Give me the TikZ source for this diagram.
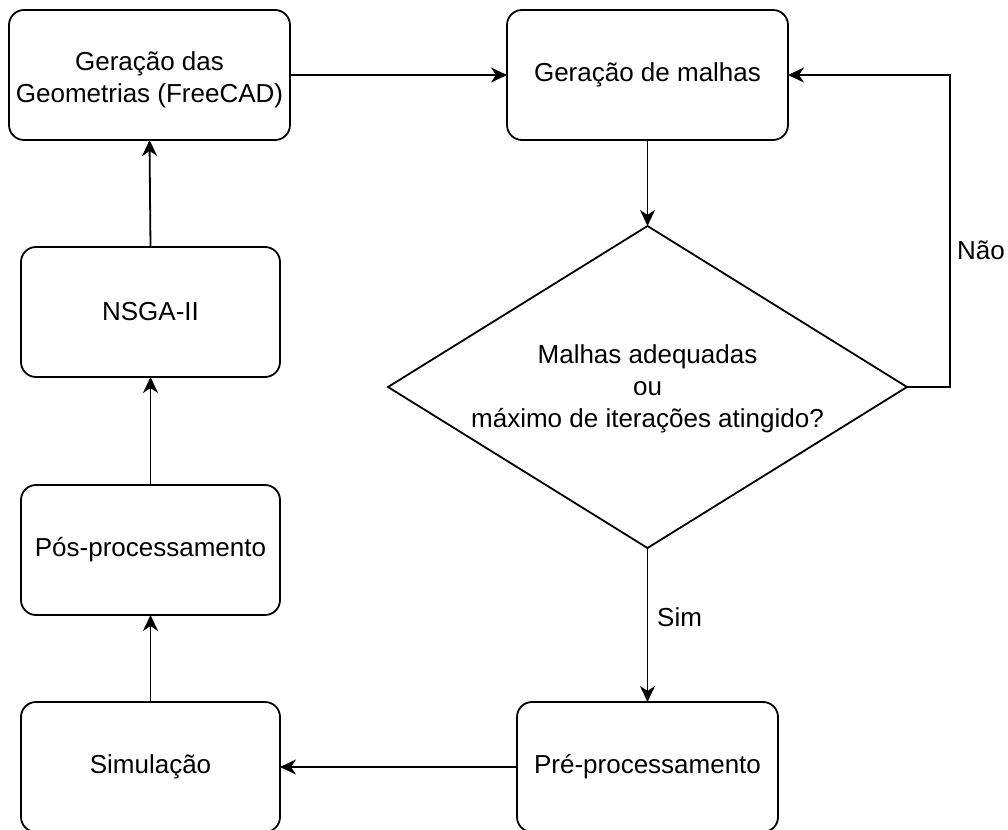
\documentclass[tikz,border=0pt]{standalone}
\usepackage{fontspec}
\setmainfont{Liberation Sans}
\usetikzlibrary{arrows.meta,shapes.geometric}

\tikzset{
  stepbox/.style={draw, line width=1.8pt, rounded corners=15pt, inner sep=0pt,
    outer sep=0pt, minimum height=130pt, align=center,
    font=\fontsize{26}{32}\selectfont},
  decision/.style={draw, diamond, line width=1.8pt, inner sep=0pt, outer sep=0pt,
    minimum width=519pt, minimum height=322pt},
  txt/.style={align=center, inner sep=0pt, font=\fontsize{26}{32}\selectfont},
  flow/.style={line width=1.8pt, -{Stealth[length=16pt, width=15pt, inset=5pt]}},
}

\begin{document}
\begin{tikzpicture}[x=1pt, y=-1pt]
  \useasboundingbox (0,0) rectangle (1008,829);

  % process steps
  \node[stepbox, minimum width=281pt] (geo)  at (149.5,75)  {};
  \node[txt] (geotxt) at ([yshift=-5pt]geo.center) {Geração das\\Geometrias (FreeCAD)};
  \node[stepbox, minimum width=281pt] (mesh) at (647.5,75)  {Geração de malhas};
  \node[stepbox, minimum width=259pt] (nsga) at (150.5,312) {NSGA-II};
  \node[stepbox, minimum width=259pt] (pos)  at (150.5,550) {Pós-processamento};
  \node[stepbox, minimum width=259pt] (sim)  at (150.5,767) {Simulação};
  \node[stepbox, minimum width=261pt] (pre)  at (647.5,767) {Pré-processamento};

  % mesh quality check
  \node[decision] (dec) at (647.5,387) {};
  \node[txt] (dectxt) at ([yshift=-2pt]dec.center) {Malhas adequadas\\ou\\máximo de iterações atingido?};

  % connectors
  \coordinate (loop) at (950,387);
  \draw[flow] (geo.east) -- (mesh.west);
  \draw[flow] (mesh.south) -- (dec.north);
  \draw[flow] (dec.east) -- (loop) |- (mesh.east);
  \draw[flow] (dec.south) -- (pre.north);
  \draw[flow] (pre.west) -- (sim.east);
  \draw[flow] (sim.north) -- (pos.south);
  \draw[flow] (pos.north) -- (nsga.south);
  \draw[flow] (nsga.north) -- (geo.south);

  % branch labels
  \node[txt, anchor=west] (nao) at (957,250) {Não};
  \node[txt, anchor=west] (simlbl) at (657,617) {Sim};
\end{tikzpicture}
\end{document}
